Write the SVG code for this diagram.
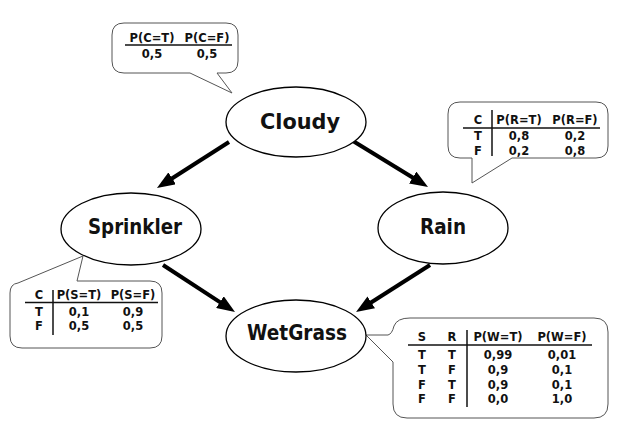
<svg xmlns="http://www.w3.org/2000/svg" width="635" height="438" viewBox="0 0 635 438">
<style>
.node{fill:#fff;stroke:#000;stroke-width:1.3}
.lbl{font-family:"DejaVu Sans",Verdana,sans-serif;font-weight:bold;font-size:21px;text-anchor:middle;fill:#111}
.call{fill:#fff;stroke:#555;stroke-width:1}
.t{font-family:"DejaVu Sans",Verdana,sans-serif;font-weight:bold;font-size:11.5px;text-anchor:middle;fill:#111}
.rule{stroke:#111;stroke-width:1.5}
.edge{stroke:#000;stroke-width:4;fill:none}
</style>
<defs>
<marker id="ah" markerUnits="userSpaceOnUse" viewBox="0 0 18 14" refX="10" refY="7" markerWidth="18" markerHeight="14" orient="auto">
<path d="M0,0 L18,7 L0,14 Z" fill="#000"/>
</marker>
</defs>
<rect width="635" height="438" fill="#fff"/>
<g id="connectors">
<line class="edge" x1="229" y1="142" x2="163.7" y2="183.7" marker-end="url(#ah)"/>
<line class="edge" x1="353" y1="141" x2="421.2" y2="182.8" marker-end="url(#ah)"/>
<line class="edge" x1="163" y1="265" x2="228.3" y2="307.6" marker-end="url(#ah)"/>
<line class="edge" x1="430" y1="265" x2="362.8" y2="307.7" marker-end="url(#ah)"/>
</g>
<g id="cpt-cloudy">
<path class="call" d="M124,23 H226 Q238,23 238,35 V61 Q238,73 226,73 H217 L232,93 L190,73 H124 Q112,73 112,61 V35 Q112,23 124,23 Z"/>
<text class="t" x="152" y="41.5">P(C=T)</text>
<text class="t" x="207" y="41.5">P(C=F)</text>
<line class="rule" x1="125" y1="45" x2="232" y2="45"/>
<text class="t" x="152" y="58">0,5</text>
<text class="t" x="207" y="58">0,5</text>
</g>
<g id="cpt-rain">
<path class="call" d="M460,102 H596 Q608,102 608,114 V146 Q608,158 596,158 H512 L472,183 L472,158 H460 Q448,158 448,146 V114 Q448,102 460,102 Z"/>
<text class="t" x="478" y="124">C</text>
<text class="t" x="519" y="124">P(R=T)</text>
<text class="t" x="575" y="124">P(R=F)</text>
<line class="rule" x1="463" y1="128" x2="600" y2="128"/>
<line class="rule" x1="492" y1="110" x2="492" y2="156"/>
<text class="t" x="478" y="140">T</text>
<text class="t" x="519" y="140">0,8</text>
<text class="t" x="575" y="140">0,2</text>
<text class="t" x="478" y="155">F</text>
<text class="t" x="519" y="155">0,2</text>
<text class="t" x="575" y="155">0,8</text>
</g>
<g id="cpt-sprinkler">
<path class="call" d="M18,283 L83,256 L77,281 H150 Q162,281 162,293 V336 Q162,348 150,348 H22 Q10,348 10,336 V293 Q10,284 18,283 Z"/>
<text class="t" x="39" y="299">C</text>
<text class="t" x="79" y="299">P(S=T)</text>
<text class="t" x="133" y="299">P(S=F)</text>
<line class="rule" x1="25" y1="302.5" x2="158" y2="302.5"/>
<line class="rule" x1="53" y1="290" x2="53" y2="335"/>
<text class="t" x="39" y="316">T</text>
<text class="t" x="79" y="316">0,1</text>
<text class="t" x="133" y="316">0,9</text>
<text class="t" x="39" y="330">F</text>
<text class="t" x="79" y="330">0,5</text>
<text class="t" x="133" y="330">0,5</text>
</g>
<g id="cpt-wetgrass">
<path class="call" d="M366,335 H388 Q392,334 394,326 Q397,318 410,318 H594 Q608,318 608,332 V404 Q608,418 594,418 H407 Q393,418 393,404 V362 Z"/>
<text class="t" x="422" y="341">S</text>
<text class="t" x="452" y="341">R</text>
<text class="t" x="498" y="341">P(W=T)</text>
<text class="t" x="562" y="341">P(W=F)</text>
<line class="rule" x1="408" y1="345" x2="592" y2="345"/>
<line class="rule" x1="467" y1="330" x2="467" y2="407"/>
<text class="t" x="422" y="359">T</text><text class="t" x="452" y="359">T</text><text class="t" x="498" y="359">0,99</text><text class="t" x="562" y="359">0,01</text>
<text class="t" x="422" y="374">T</text><text class="t" x="452" y="374">F</text><text class="t" x="498" y="374">0,9</text><text class="t" x="562" y="374">0,1</text>
<text class="t" x="422" y="388.5">F</text><text class="t" x="452" y="388.5">T</text><text class="t" x="498" y="388.5">0,9</text><text class="t" x="562" y="388.5">0,1</text>
<text class="t" x="422" y="403">F</text><text class="t" x="452" y="403">F</text><text class="t" x="498" y="403">0,0</text><text class="t" x="562" y="403">1,0</text>
</g>
<g id="node-cloudy">
<ellipse class="node" cx="296" cy="122" rx="70" ry="35"/>
<text class="lbl" x="300" y="129" textLength="80" lengthAdjust="spacingAndGlyphs">Cloudy</text>
</g>
<g id="node-sprinkler">
<ellipse class="node" cx="131" cy="229" rx="70" ry="36"/>
<text class="lbl" x="135" y="234" textLength="94" lengthAdjust="spacingAndGlyphs">Sprinkler</text>
</g>
<g id="node-rain">
<ellipse class="node" cx="443" cy="228" rx="65" ry="36"/>
<text class="lbl" x="443" y="234" textLength="46" lengthAdjust="spacingAndGlyphs">Rain</text>
</g>
<g id="node-wetgrass">
<ellipse class="node" cx="296" cy="336" rx="70" ry="36"/>
<text class="lbl" x="297" y="340" textLength="100" lengthAdjust="spacingAndGlyphs">WetGrass</text>
</g>
</svg>
